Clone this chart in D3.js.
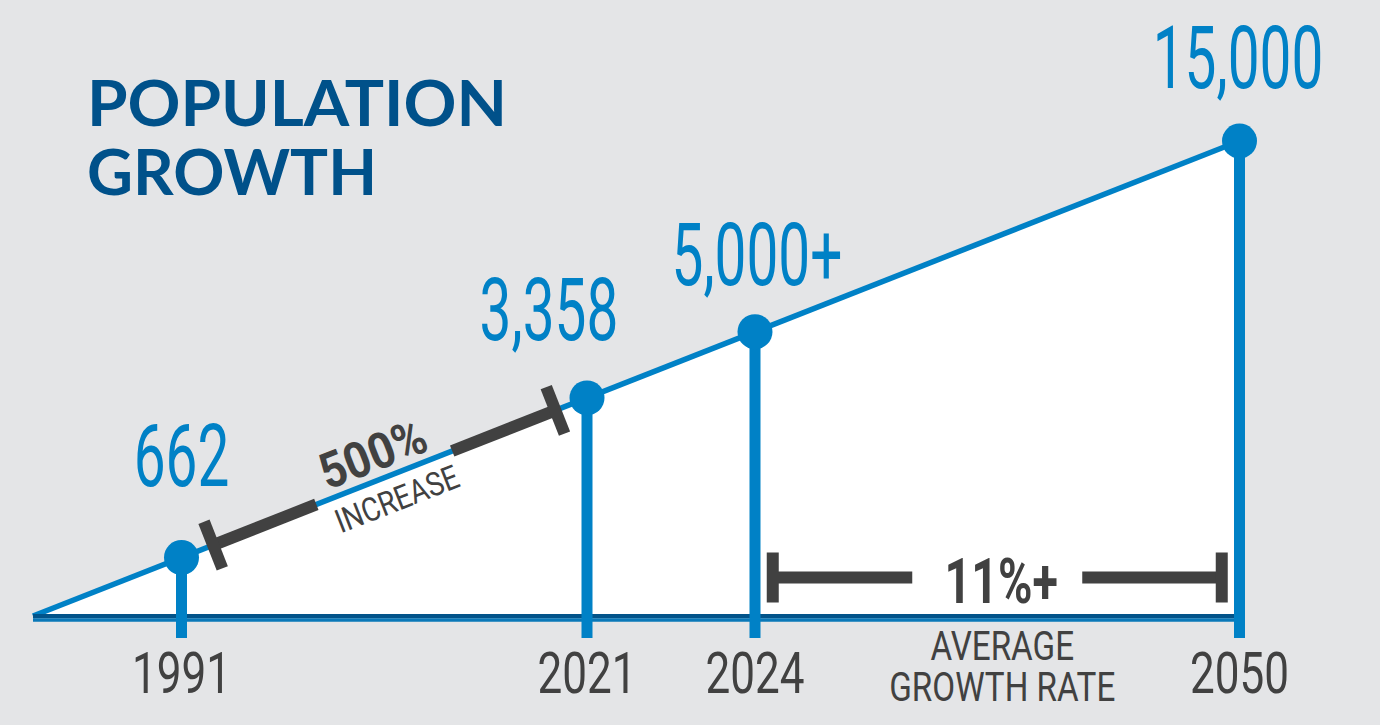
<!DOCTYPE html>
<html>
<head>
<meta charset="utf-8">
<script src="https://cdn.jsdelivr.net/npm/d3@7"></script>
<style>
  html, body { margin: 0; padding: 0; background: #e4e5e7; }
  svg { display: block; }
</style>
</head>
<body>
<svg id="chart" width="1380" height="725"></svg>
<script>
// ---------------- DATA ----------------
const years = [1991, 2021, 2024, 2050];
const population = [662, 3358, 5000, 15000];
const valueLabels = ["662", "3,358", "5,000+", "15,000"];
const yearLabels = ["1991", "2021", "2024", "2050"];
const titleLines = ["POPULATION", "GROWTH"];
const increaseSpan = [1991, 2021];
const increaseText = ["500%", "INCREASE"];
const rateSpan = [2024, 2050];
const rateText = ["11%+", "AVERAGE", "GROWTH RATE"];

// ---------------- LAYOUT / STYLE ----------------
const W = 1380, H = 725;
const BLUE = "#0081c6", NAVY = "#02548a", TITLE = "#00518a", GRAY = "#414141";
const baseY = 616, originX = 33, topY = 141;
const stemBottom = 638;
// schematic (non-proportional) year axis, as in the infographic
const x = d3.scaleLinear().domain(years).range([181.5, 587, 755, 1239.5]);
// trend line from origin to last point; points sit on it
const yTrend = d3.scaleLinear().domain([originX, x(years[years.length - 1])]).range([baseY, topY]);
// label nudges (dx, dy) relative to each point
const labelNudge = [[0, -72], [-38, -58], [2, -47], [-1.5, -53]];

const data = years.map((yr, i) => ({ year: yr, value: population[i], label: valueLabels[i], yearLabel: yearLabels[i], nudge: labelNudge[i] }));
data.forEach(d => { d.px = x(d.year); d.py = yTrend(d.px); });

const svg = d3.select("#chart");
svg.append("rect").attr("width", W).attr("height", H).attr("fill", "#e4e5e7");

function condense(sel, f) {
  sel.each(function () {
    const L = this.getComputedTextLength();
    this.setAttribute("textLength", L * f);
    this.setAttribute("lengthAdjust", "spacingAndGlyphs");
  });
}

// white area under trend
const last = data[data.length - 1];
svg.append("path")
  .attr("d", d3.line()([[originX, baseY], [last.px, last.py], [last.px, baseY]]) + "Z")
  .attr("fill", "#ffffff");

// trend line
svg.append("path")
  .attr("d", d3.line()([[originX, baseY], [last.px, last.py]]))
  .attr("stroke", BLUE).attr("stroke-width", 5.5).attr("fill", "none");

// 500% bracket along the trend line
const angle = Math.atan2(yTrend(1000) - yTrend(0), 1000) * 180 / Math.PI;
const cosA = Math.cos(angle * Math.PI / 180);
const gx = (x(increaseSpan[0]) + x(increaseSpan[1])) / 2;
const halfLen = (x(increaseSpan[1]) - x(increaseSpan[0])) / 2 / cosA - 34;
const gapHalf = 73;
const inc = svg.append("g").attr("transform", `translate(${gx},${yTrend(gx)}) rotate(${angle})`);
inc.append("rect").attr("x", -halfLen).attr("y", -6).attr("width", halfLen - gapHalf).attr("height", 12).attr("fill", GRAY);
inc.append("rect").attr("x", gapHalf).attr("y", -6).attr("width", halfLen - gapHalf).attr("height", 12).attr("fill", GRAY);
inc.selectAll("rect.tick").data([-halfLen, halfLen]).join("rect").attr("class", "tick")
  .attr("x", d => d - 6).attr("y", -25).attr("width", 12).attr("height", 50).attr("fill", GRAY);
inc.append("text").text(increaseText[0]).attr("x", -2).attr("y", -9)
  .attr("text-anchor", "middle").attr("font-family", "Roboto, sans-serif").attr("font-weight", 700)
  .attr("font-size", 50).attr("fill", GRAY).call(condense, 0.9);
inc.append("text").text(increaseText[1]).attr("x", 4).attr("y", 36)
  .attr("text-anchor", "middle").attr("font-family", "Roboto, sans-serif").attr("font-weight", 400)
  .attr("font-size", 33).attr("fill", GRAY).call(condense, 0.85);

// baseline
svg.append("line").attr("x1", originX).attr("x2", last.px).attr("y1", baseY + 0.2).attr("y2", baseY + 0.2)
  .attr("stroke", NAVY).attr("stroke-width", 4.3);
svg.append("line").attr("x1", originX).attr("x2", last.px).attr("y1", baseY + 4).attr("y2", baseY + 4)
  .attr("stroke", "#0a78b8").attr("stroke-width", 3.4);

// growth-rate bracket
const rc = (x(rateSpan[0]) + x(rateSpan[1])) / 2;
const rHalf = 224.5, rGap = 85, rY = 577.5;
const rg = svg.append("g").attr("transform", `translate(${rc},${rY})`);
rg.append("rect").attr("x", -rHalf).attr("y", -6).attr("width", rHalf - rGap).attr("height", 12).attr("fill", GRAY);
rg.append("rect").attr("x", rGap).attr("y", -6).attr("width", rHalf - rGap).attr("height", 12).attr("fill", GRAY);
rg.selectAll("rect.tick").data([-rHalf, rHalf]).join("rect").attr("class", "tick")
  .attr("x", d => d - 6).attr("y", -25).attr("width", 12).attr("height", 50).attr("fill", GRAY);
rg.append("text").text(rateText[0]).attr("x", 4).attr("y", 25.5)
  .attr("text-anchor", "middle").attr("font-family", "Roboto, sans-serif").attr("font-weight", 700)
  .attr("font-size", 63).attr("fill", GRAY).call(condense, 0.74);
svg.append("text").text(rateText[1]).attr("x", rc + 5).attr("y", 660)
  .attr("text-anchor", "middle").attr("font-family", "Roboto, sans-serif")
  .attr("font-size", 40).attr("fill", GRAY).call(condense, 0.83);
svg.append("text").text(rateText[2]).attr("x", rc + 5).attr("y", 701)
  .attr("text-anchor", "middle").attr("font-family", "Roboto, sans-serif")
  .attr("font-size", 40).attr("fill", GRAY).call(condense, 0.83);

// stems
svg.selectAll("line.stem").data(data).join("line").attr("class", "stem")
  .attr("x1", d => d.px).attr("x2", d => d.px)
  .attr("y1", d => d.py).attr("y2", stemBottom)
  .attr("stroke", BLUE).attr("stroke-width", 11);

// dots
svg.selectAll("circle.dot").data(data).join("circle").attr("class", "dot")
  .attr("cx", d => d.px).attr("cy", d => d.py).attr("r", 17.5).attr("fill", BLUE);

// value labels
svg.selectAll("text.val").data(data).join("text").attr("class", "val")
  .text(d => d.label)
  .attr("x", d => d.px + d.nudge[0]).attr("y", d => d.py + d.nudge[1])
  .attr("text-anchor", "middle").attr("font-family", "Roboto, sans-serif")
  .attr("font-size", 88).attr("fill", BLUE).call(condense, 0.645);

// year labels
svg.selectAll("text.yr").data(data).join("text").attr("class", "yr")
  .text(d => d.yearLabel)
  .attr("x", d => d.px).attr("y", 693)
  .attr("text-anchor", "middle").attr("font-family", "Roboto, sans-serif")
  .attr("font-size", 58).attr("fill", GRAY).call(condense, 0.76);

// title
const titleWidths = [420, 290];
svg.selectAll("text.title").data(titleLines).join("text").attr("class", "title")
  .text(d => d)
  .attr("x", 87).attr("y", (d, i) => 126 + i * 69)
  .attr("font-family", "Lato, 'Open Sans', sans-serif").attr("font-weight", 700)
  .attr("font-size", 64).attr("fill", TITLE)
  .attr("textLength", (d, i) => titleWidths[i]).attr("lengthAdjust", "spacingAndGlyphs");
</script>
</body>
</html>
